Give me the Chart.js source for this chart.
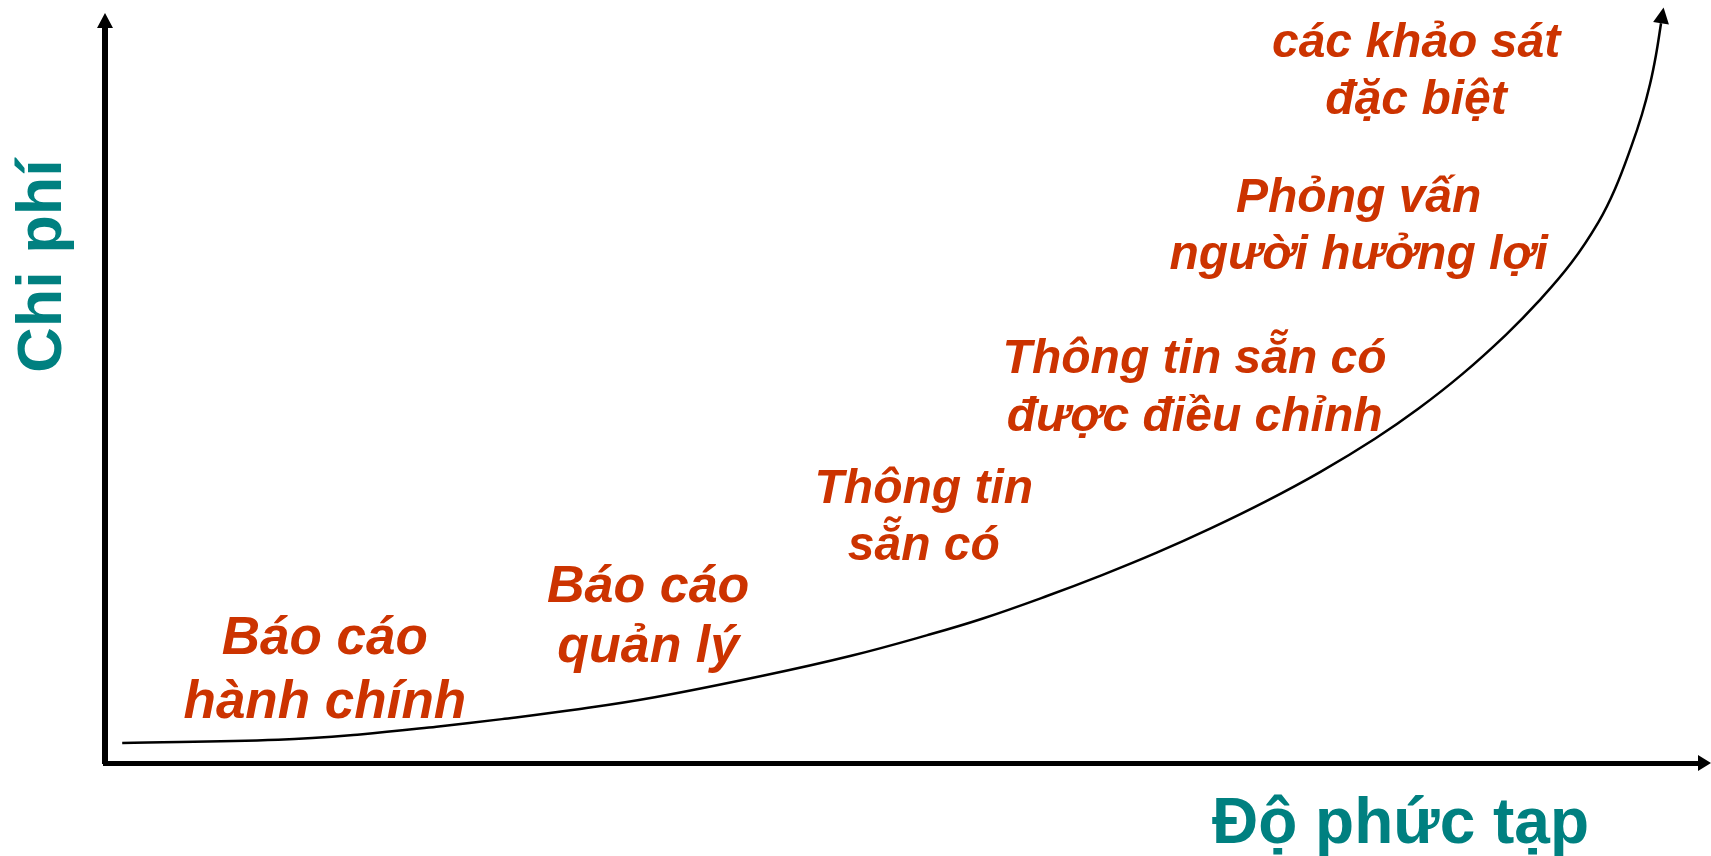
<!DOCTYPE html>
<html lang="vi">
<head>
<meta charset="utf-8">
<title>Chi phí và độ phức tạp</title>
<script src="https://cdn.jsdelivr.net/npm/chart.js@4.4.1/dist/chart.umd.min.js"></script>
<style>
    html, body { margin: 0; padding: 0; background: #fff; overflow: hidden; }
    #wrap { position: relative; width: 1711px; height: 856px; }
</style>
</head>
<body>
<div id="wrap"><canvas id="costChart"></canvas></div>
<script>
// Curve (complexity 0-100 along x, cost 0-100 along y)
const complexity = [1.08, 10.88, 16.01, 20.81, 24.92, 29.71, 34.51, 41.36, 46.84, 51.63, 55.06, 59.17, 62.59, 66.02, 69.44, 72.87, 76.30, 79.72, 82.46, 85.20, 87.94, 89.99, 92.05, 93.76, 94.79, 95.81, 96.48, 96.99, 97.36, 97.68];
const cost = [2.71, 3.16, 3.89, 4.94, 5.97, 7.31, 8.94, 11.90, 14.59, 17.40, 19.63, 22.75, 25.56, 28.61, 31.95, 35.59, 39.61, 44.12, 48.23, 52.91, 58.26, 62.80, 68.05, 73.63, 78.10, 83.86, 88.23, 92.37, 96.29, 100.64];

// Labels along the curve
const labelLines = [
    ['Báo cáo', 'hành chính'],
    ['Báo cáo', 'quản lý'],
    ['Thông tin', 'sẵn có'],
    ['Thông tin sẵn có', 'được điều chỉnh'],
    ['Phỏng vấn', 'người hưởng lợi'],
    ['các khảo sát', 'đặc biệt']
];
// where each label sits (data units: centre x, first baseline y), font size and line gap in px
const labelAnchorX = [13.8, 34.1, 51.4, 68.4, 78.7, 82.3];
const labelAnchorY = [14.8, 21.9, 35.4, 53.0, 74.9, 96.0];
const labelSize = [53, 52, 48, 48, 48, 48];
const labelGap = [64, 60, 57, 58, 57, 57];

const xTitle = 'Độ phức tạp';
const yTitle = 'Chi phí';

const ORANGE = '#cc3300';
const TEAL = '#008080';
const FONT = '"Liberation Sans", Arial, sans-serif';

function arrowHead(ctx, tipX, tipY, dx, dy, len, half) {
    // dx, dy = unit direction the arrow points to
    const bx = tipX - dx * len, by = tipY - dy * len;
    ctx.beginPath();
    ctx.moveTo(tipX, tipY);
    ctx.lineTo(bx - dy * half, by + dx * half);
    ctx.lineTo(bx + dy * half, by - dx * half);
    ctx.closePath();
    ctx.fill();
}

const decorations = {
    id: 'decorations',
    afterDraw(chart) {
        const ctx = chart.ctx;
        const area = chart.chartArea;
        const xs = chart.scales.x;
        const ys = chart.scales.y;
        ctx.save();

        // axis arrows
        ctx.fillStyle = '#000';
        arrowHead(ctx, xs.getPixelForValue(0), area.top - 15, 0, -1, 15, 8);
        arrowHead(ctx, area.right + 13, ys.getPixelForValue(0), 1, 0, 13, 8);

        // arrow at the end of the curve
        const pts = chart.getDatasetMeta(0).data;
        const a = pts[pts.length - 2], b = pts[pts.length - 1];
        let dx = b.x - a.x, dy = b.y - a.y;
        const d = Math.hypot(dx, dy);
        dx /= d; dy /= d;
        arrowHead(ctx, b.x + dx * 16, b.y + dy * 16, dx, dy, 16, 8);

        // labels
        ctx.fillStyle = ORANGE;
        ctx.textAlign = 'center';
        ctx.textBaseline = 'alphabetic';
        labelLines.forEach((lines, i) => {
            ctx.font = 'italic bold ' + labelSize[i] + 'px ' + FONT;
            const cx = xs.getPixelForValue(labelAnchorX[i]);
            const cy = ys.getPixelForValue(labelAnchorY[i]);
            lines.forEach((t, j) => ctx.fillText(t, cx, cy + j * labelGap[i]));
        });

        // axis titles
        ctx.fillStyle = TEAL;
        ctx.font = 'bold 64px ' + FONT;
        ctx.textAlign = 'left';
        ctx.fillText(xTitle, 1212, 843);

        ctx.font = 'bold 63px ' + FONT;
        ctx.translate(61, 266);
        ctx.rotate(-Math.PI / 2);
        ctx.textAlign = 'center';
        ctx.fillText(yTitle, 0, 0);

        ctx.restore();
    }
};

const ctx = document.getElementById('costChart').getContext('2d');
new Chart(ctx, {
    type: 'scatter',
    data: {
        datasets: [{
            data: complexity.map((x, i) => ({ x: x, y: cost[i] })),
            showLine: true,
            borderColor: '#000',
            borderWidth: 2.5,
            pointRadius: 0,
            tension: 0.4,
            clip: false
        }]
    },
    options: {
        responsive: true,
        maintainAspectRatio: false,
        animation: false,
        layout: { padding: { left: 105, top: 28, right: 13, bottom: 93 } },
        plugins: {
            legend: { display: false },
            tooltip: { enabled: false }
        },
        scales: {
            x: {
                type: 'linear',
                min: 0,
                max: 100,
                grid: { display: false, drawTicks: false },
                ticks: { display: false },
                border: { display: true, color: '#000', width: 5 }
            },
            y: {
                type: 'linear',
                min: 0,
                max: 100,
                grid: { display: false, drawTicks: false },
                ticks: { display: false },
                border: { display: true, color: '#000', width: 6 }
            }
        }
    },
    plugins: [decorations]
});
</script>
</body>
</html>
